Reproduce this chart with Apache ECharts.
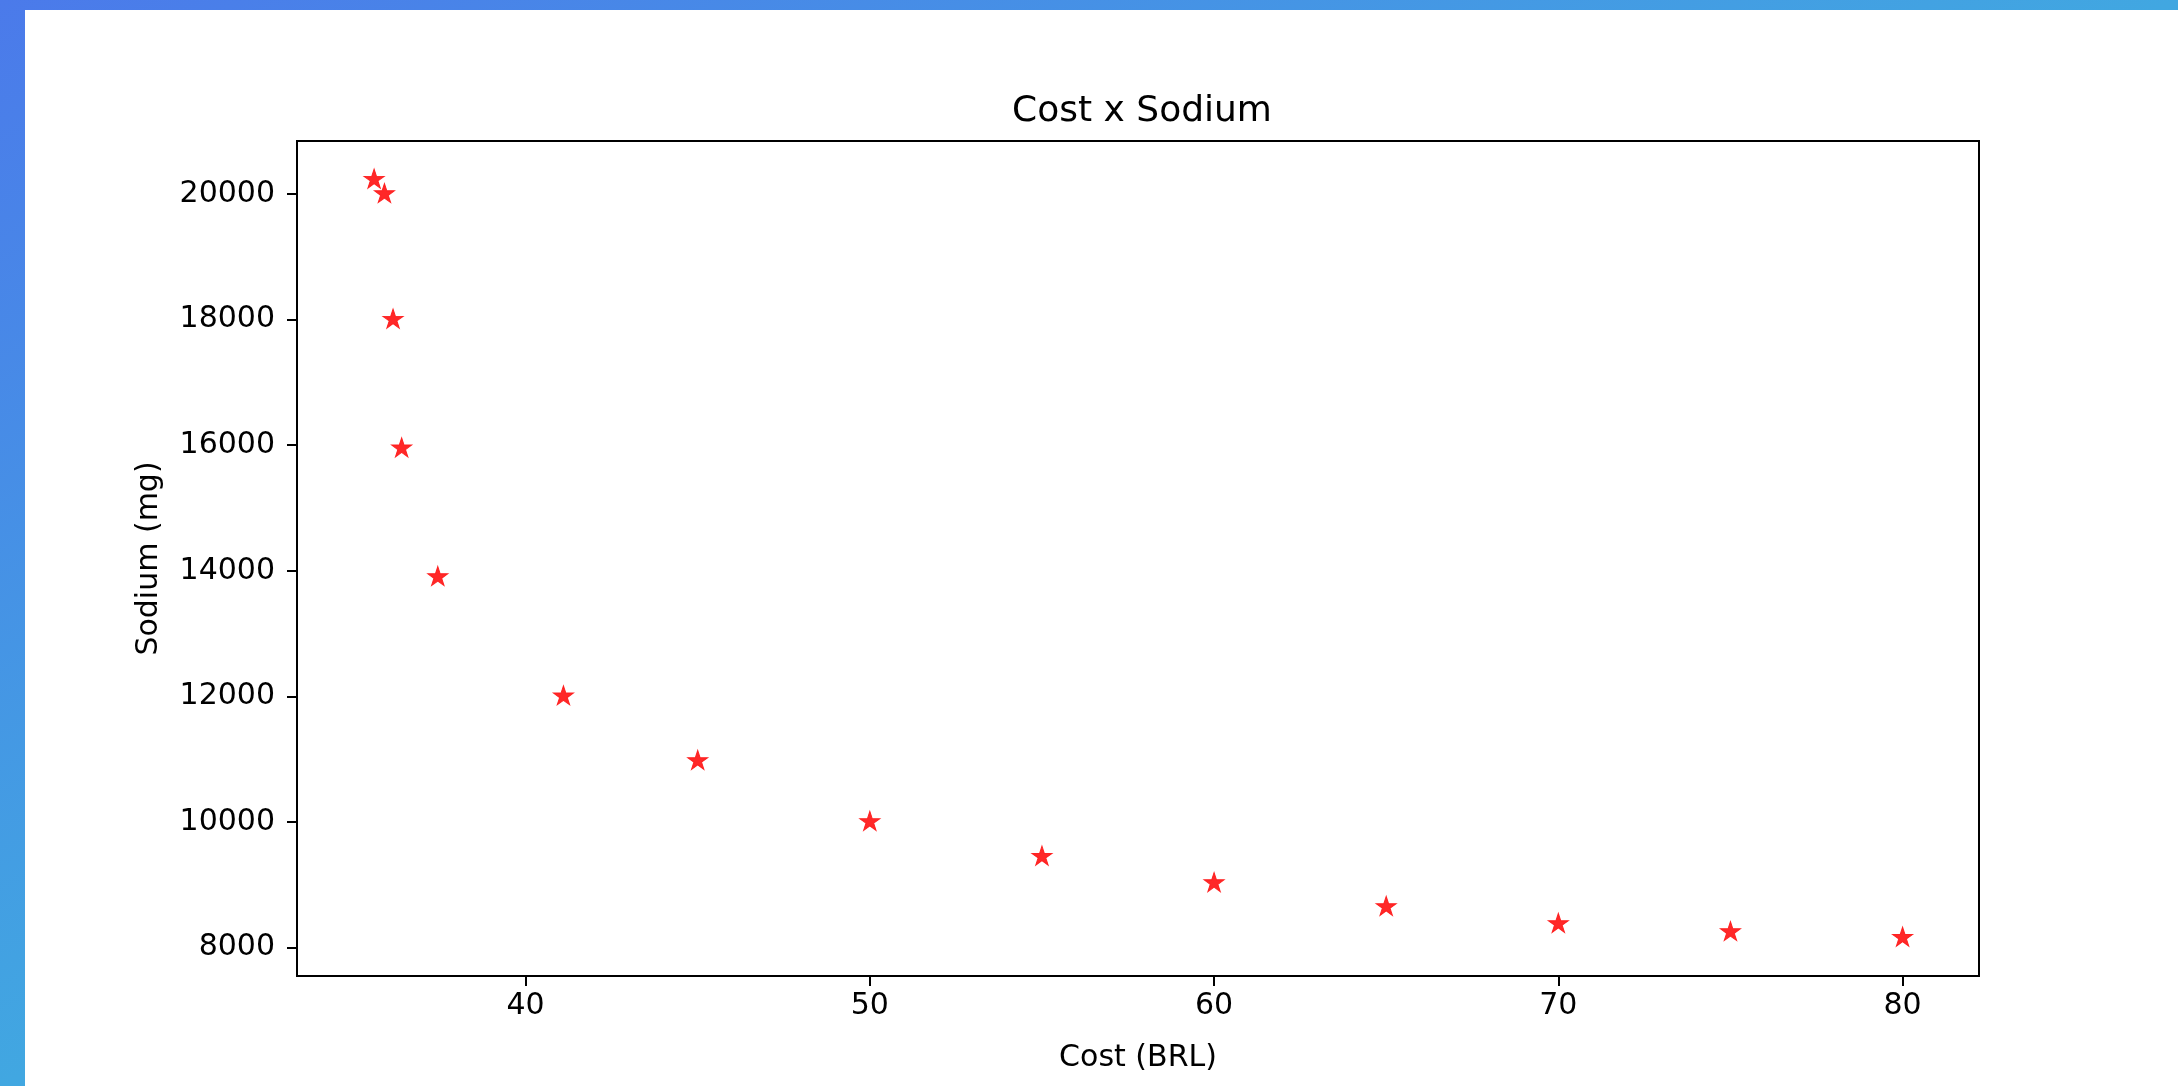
<!DOCTYPE html>
<html>
<head>
<meta charset="utf-8">
<script src="https://cdn.jsdelivr.net/npm/echarts@6/dist/echarts.min.js"></script>
<style>
  html, body { margin: 0; padding: 0; width: 2178px; height: 1086px; overflow: hidden; }
  body { background: linear-gradient(to bottom right, #4b7aea 0%, #41a7e1 50%, #3ec2dc 100%); position: relative; }
  #paper { position: absolute; left: 25px; top: 10px; right: 0; bottom: 0; background: #ffffff; }
  #chart { position: absolute; left: 0; top: 0; width: 2178px; height: 1086px; }
</style>
</head>
<body>
<div id="paper"></div>
<div id="chart"></div>
<script>
// Data
const cost = [35.6, 35.9, 36.15, 36.4, 37.45, 41.1, 45, 50, 55, 60, 65, 70, 75, 80];
const sodium = [20230, 20000, 18000, 15950, 13900, 12000, 10970, 10000, 9445, 9025, 8645, 8375, 8245, 8155];
const xTicks = [40, 50, 60, 70, 80];
const yTicks = [8000, 10000, 12000, 14000, 16000, 18000, 20000];

const points = cost.map((c, i) => [c, sodium[i]]);
const starPath = 'path://M100,0 L122.45,69.1 L195.1,69.1 L136.3,111.8 L158.8,180.9 L100,138.2 L41.2,180.9 L63.7,111.8 L4.9,69.1 L77.55,69.1 Z';

const FONT = 'DejaVu Sans';
const chart = echarts.init(document.getElementById('chart'), null, { renderer: 'canvas' });
chart.setOption({
  backgroundColor: 'transparent',
  animation: false,
  title: {
    text: 'Cost x Sodium',
    left: 1137,
    textAlign: 'center',
    top: 89,
    textStyle: { fontFamily: FONT, fontSize: 36, fontWeight: 'normal', color: '#000' }
  },
  grid: {
    left: 297, top: 141, width: 1682, height: 835,
    show: true, borderColor: '#000', borderWidth: 2, backgroundColor: 'transparent'
  },
  xAxis: {
    type: 'value',
    min: 33.36, max: 82.22,
    name: 'Cost (BRL)',
    nameLocation: 'middle',
    nameGap: 67,
    nameTextStyle: { fontFamily: FONT, fontSize: 30, color: '#000' },
    axisLine: { show: true, lineStyle: { color: '#000', width: 2 } },
    axisTick: { show: true, length: 10, lineStyle: { color: '#000', width: 2 }, customValues: xTicks },
    axisLabel: { fontFamily: FONT, fontSize: 30, color: '#000', margin: 15, customValues: xTicks, formatter: v => String(v) },
    splitLine: { show: false }
  },
  yAxis: {
    type: 'value',
    min: 7545, max: 20845,
    name: 'Sodium (mg)',
    nameLocation: 'middle',
    nameGap: 133,
    nameTextStyle: { fontFamily: FONT, fontSize: 30, color: '#000' },
    axisLine: { show: true, lineStyle: { color: '#000', width: 2 } },
    axisTick: { show: true, length: 10, lineStyle: { color: '#000', width: 2 }, customValues: yTicks },
    axisLabel: { fontFamily: FONT, fontSize: 30, color: '#000', margin: 22, customValues: yTicks, formatter: v => String(v) },
    splitLine: { show: false }
  },
  series: [{
    type: 'scatter',
    data: points,
    symbol: starPath,
    symbolSize: [20, 19],
    symbolOffset: [0, -1],
    itemStyle: { color: '#ff1c1c', borderColor: '#ff1c1c', borderWidth: 1, opacity: 0.95 }
  }]
});
</script>
</body>
</html>
